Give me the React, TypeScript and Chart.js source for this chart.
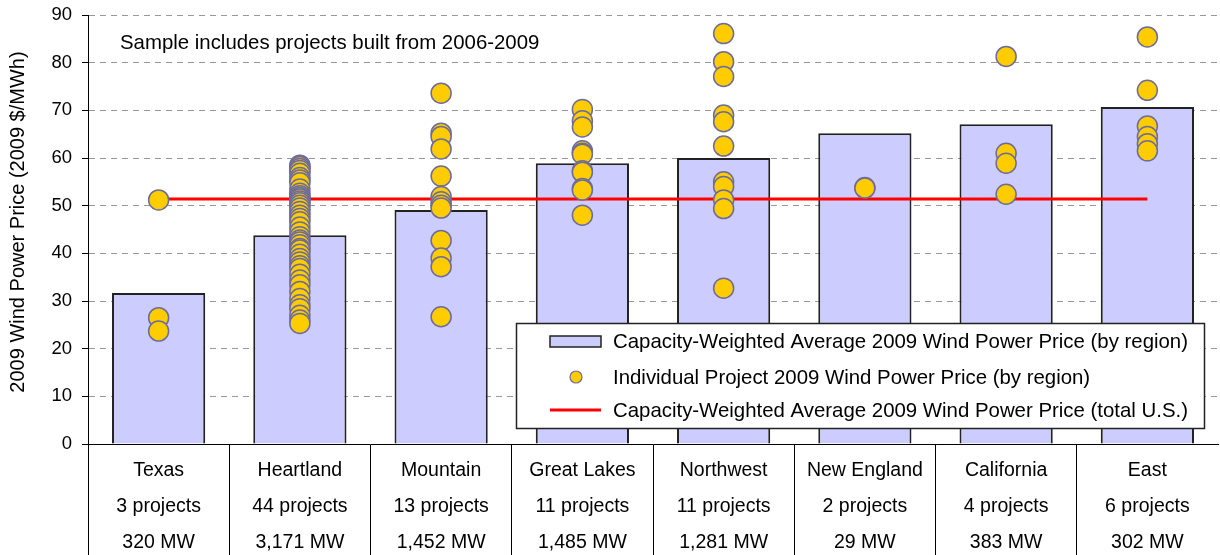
import React, { useEffect, useRef } from "react";
import { Chart, registerables } from "chart.js";

Chart.register(...registerables);

const regions = ["Texas", "Heartland", "Mountain", "Great Lakes", "Northwest", "New England", "California", "East"];
const projectCounts = ["3 projects", "44 projects", "13 projects", "11 projects", "11 projects", "2 projects", "4 projects", "6 projects"];
const capacities = ["320 MW", "3,171 MW", "1,452 MW", "1,485 MW", "1,281 MW", "29 MW", "383 MW", "302 MW"];

const regionAverages = [31.7, 43.8, 49.1, 58.9, 60.0, 65.2, 67.1, 70.7];
const usAverage = 51.4;

const texasProjects = [51.2, 26.5, 23.7];
const heartlandProjects = [
  58.5, 58.2, 57.8, 57.4, 56.8, 55.9, 55.4, 54.8, 53.5, 52.6,
  52.1, 51.7, 51.4, 51.0, 50.6, 50.1, 49.5, 48.8, 48.0, 47.3,
  46.6, 45.5, 44.5, 43.5, 42.8, 42.4, 41.8, 41.0, 40.7, 39.8,
  38.9, 38.2, 37.4, 36.8, 35.6, 34.4, 33.4, 32.0, 30.5, 29.2,
  28.4, 27.0, 26.0, 25.3,
];
const mountainProjects = [73.6, 65.2, 64.5, 61.9, 56.2, 51.9, 50.8, 50.1, 49.5, 42.7, 39.0, 37.2, 26.7];
const greatLakesProjects = [70.2, 67.8, 66.5, 61.5, 61.0, 60.8, 57.3, 57.0, 53.6, 53.3, 48.0];
const northwestProjects = [86.1, 80.2, 77.1, 69.0, 67.6, 62.5, 55.0, 54.0, 51.2, 49.4, 32.7];
const newEnglandProjects = [53.8, 53.7];
const californiaProjects = [81.3, 61.0, 58.9, 52.4];
const eastProjects = [85.4, 74.2, 66.7, 64.5, 63.0, 61.5];

const projectsByRegion = [
  texasProjects, heartlandProjects, mountainProjects, greatLakesProjects,
  northwestProjects, newEnglandProjects, californiaProjects, eastProjects,
];

const yTitle = "2009 Wind Power Price (2009 $/MWh)";
const note = "Sample includes projects built from 2006-2009";
const legendLabels = [
  "Capacity-Weighted Average 2009 Wind Power Price (by region)",
  "Individual Project 2009 Wind Power Price (by region)",
  "Capacity-Weighted Average 2009 Wind Power Price (total U.S.)",
];

const FONT = "'Liberation Sans', Arial, sans-serif";
const BAR_FILL = "#CCCCFF";
const DOT_FILL = "#FFCC00";
const DOT_BORDER = "#6C6C9C";

export default function App() {
  const ref = useRef<HTMLCanvasElement | null>(null);

  useEffect(() => {
    if (!ref.current) return;
    const points: { x: string; y: number }[] = [];
    projectsByRegion.forEach((vals, i) => vals.forEach((v) => points.push({ x: regions[i], y: v })));

    const overlay = {
      id: "overlay",
      afterDraw(chart: any) {
        const ctx = chart.ctx;
        ctx.save();
        // y-axis title
        ctx.fillStyle = "#000";
        ctx.font = `20px ${FONT}`;
        ctx.textAlign = "center";
        ctx.textBaseline = "middle";
        ctx.save();
        ctx.translate(18, 222);
        ctx.rotate(-Math.PI / 2);
        ctx.fillText(yTitle, 0, 0);
        ctx.restore();
        // note
        ctx.font = `20.4px ${FONT}`;
        ctx.textAlign = "left";
        ctx.fillText(note, 120, 43);
        // legend
        const lx = 516.5, ly = 323.5, lw = 688, lh = 105;
        ctx.fillStyle = "#fff";
        ctx.fillRect(lx, ly, lw, lh);
        ctx.strokeStyle = "#222";
        ctx.lineWidth = 1.5;
        ctx.strokeRect(lx, ly, lw, lh);
        const rows = [342, 378, 411];
        // swatch bar
        ctx.fillStyle = BAR_FILL;
        ctx.fillRect(550, 336, 51, 11);
        ctx.strokeStyle = "#222";
        ctx.lineWidth = 1.5;
        ctx.strokeRect(550, 336, 51, 11);
        // dot
        ctx.beginPath();
        ctx.arc(576, 377, 6, 0, Math.PI * 2);
        ctx.fillStyle = DOT_FILL;
        ctx.fill();
        ctx.strokeStyle = DOT_BORDER;
        ctx.lineWidth = 1.2;
        ctx.stroke();
        // red line
        ctx.beginPath();
        ctx.moveTo(550, 410);
        ctx.lineTo(601, 410);
        ctx.strokeStyle = "#FF0000";
        ctx.lineWidth = 3;
        ctx.stroke();
        ctx.fillStyle = "#000";
        ctx.font = `20.4px ${FONT}`;
        ctx.textAlign = "left";
        ctx.textBaseline = "middle";
        legendLabels.forEach((t, i) => ctx.fillText(t, 613, rows[i]));
        ctx.restore();
      },
    };

    const chart = new Chart(ref.current, {
      type: "bar",
      data: {
        labels: regions,
        datasets: [
          {
            type: "line",
            label: legendLabels[1],
            data: points as any,
            showLine: false,
            pointRadius: 10,
            pointHoverRadius: 10,
            pointBackgroundColor: DOT_FILL,
            pointBorderColor: DOT_BORDER,
            pointBorderWidth: 1.5,
            clip: false,
            order: 1,
          } as any,
          {
            type: "line",
            label: legendLabels[2],
            data: [{ x: regions[0], y: usAverage }, { x: regions[regions.length - 1], y: usAverage }] as any,
            borderColor: "#FF0000",
            borderWidth: 3,
            pointRadius: 0,
            order: 2,
          } as any,
          {
            type: "bar",
            label: legendLabels[0],
            data: regionAverages,
            backgroundColor: BAR_FILL,
            borderColor: "#222",
            borderWidth: 2,
            barPercentage: 0.66,
            categoryPercentage: 1,
            order: 3,
          } as any,
        ],
      },
      options: {
        responsive: false,
        maintainAspectRatio: false,
        animation: false,
        layout: { autoPadding: false, padding: { top: 15, right: 2, left: 0, bottom: 0 } },
        plugins: { legend: { display: false }, tooltip: { enabled: false } },
        scales: {
          x: {
            type: "category",
            offset: true,
            grid: {
              offset: true,
              drawOnChartArea: false,
              drawTicks: true,
              tickLength: 111,
              tickColor: (c: any) => (c.type !== "tick" ? "rgba(0,0,0,0)" : "#000"),
              tickWidth: 1,
            },
            border: { color: "#000", width: 1 },
            ticks: {
              padding: -102,
              autoSkip: false,
              maxRotation: 0,
              color: "#000",
              font: { family: FONT, size: 19.5, lineHeight: 36 / 19.5 },
              callback: (_v: any, i: number) => [regions[i], projectCounts[i], capacities[i]],
            },
            afterFit: (s: any) => {
              s.height = 111;
              s.paddingLeft = 0;
              s.paddingRight = 0;
            },
          },
          y: {
            min: 0,
            max: 90,
            grid: {
              color: "#999",
              lineWidth: 1,
              tickColor: "#000",
              tickLength: 6,
              tickBorderDash: [],
            },
            border: { color: "#000", width: 1, dash: [6, 5] },
            ticks: {
              stepSize: 10,
              padding: 10,
              color: "#000",
              font: { family: FONT, size: 18.5 },
            },
            afterFit: (s: any) => {
              s.width = 88;
              s.paddingTop = 0;
              s.paddingBottom = 0;
            },
          },
        },
      },
      plugins: [overlay],
    });
    return () => chart.destroy();
  }, []);

  return (
    <div style={{ position: "absolute", left: 0, top: 0, width: 1220, height: 555, background: "#fff" }}>
      <canvas ref={ref} width={1220} height={555} style={{ display: "block" }} />
    </div>
  );
}
